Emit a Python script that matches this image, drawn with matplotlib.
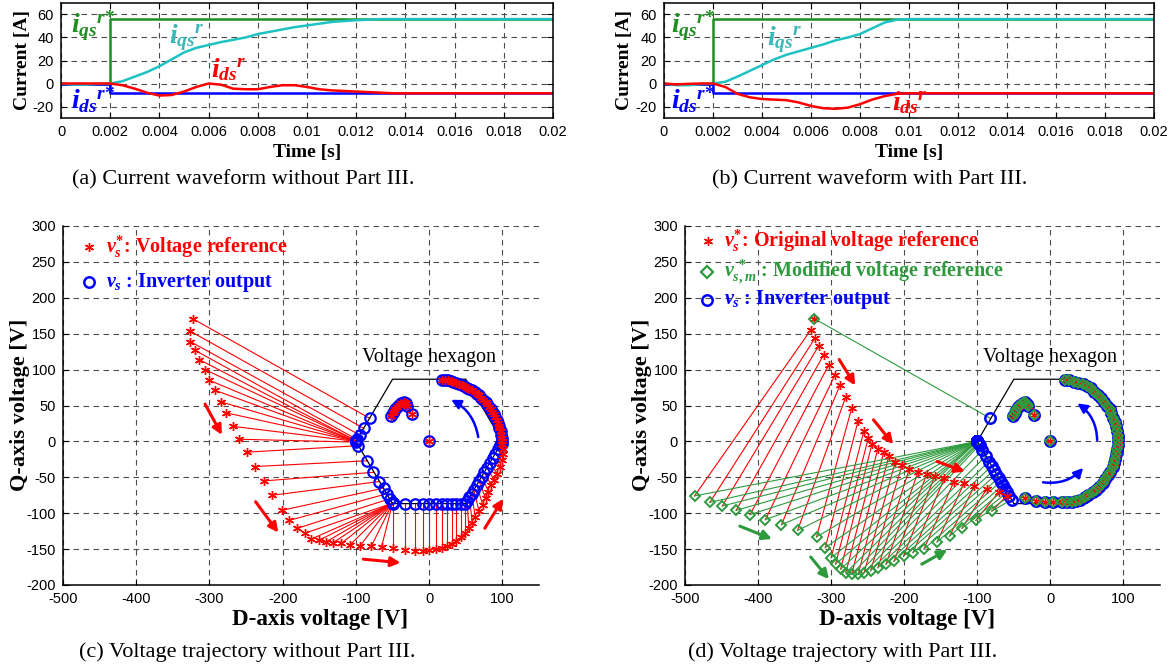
import matplotlib.pyplot as plt
import numpy as np

plt.rcParams['font.family'] = ['Liberation Serif', 'DejaVu Serif']
plt.rcParams['mathtext.fontset'] = 'custom'
plt.rcParams['mathtext.it'] = 'Liberation Serif:italic:bold'
plt.rcParams['mathtext.rm'] = 'Liberation Serif:bold'
plt.rcParams['mathtext.bf'] = 'Liberation Serif:bold'
plt.rcParams['axes.unicode_minus'] = False

# ---------------- current waveforms (a), (b) ----------------
t_ref = [0, 0.002, 0.02]
iqs_ref = [0, 56, 56]
ids_ref = [0, -8.5, -8.5]

t = [0, 0.0005, 0.001, 0.0015, 0.002, 0.0025, 0.003, 0.0035, 0.004, 0.0045,
     0.005, 0.0055, 0.006, 0.0065, 0.007, 0.0075, 0.008, 0.0085, 0.009, 0.0095,
     0.010, 0.0105, 0.011, 0.0115, 0.012, 0.0125, 0.013, 0.0135, 0.014, 0.0145,
     0.015, 0.0155, 0.016, 0.0165, 0.017, 0.0175, 0.018, 0.0185, 0.019, 0.0195, 0.02]

iqs_a = [0, -1, -1, -0.3, 0, 2, 6, 10, 15, 21,
         27, 31, 33.5, 36, 38, 40, 43, 45, 47, 49,
         50.5, 52, 53.5, 54.3, 55, 55.5, 56, 56, 56, 56,
         56, 56, 56, 56, 56, 56, 56, 56, 56, 56, 56]
ids_a = [0, 0, 0, 0, 0, -1.5, -4.5, -8, -10.5, -10,
         -7, -3, 0, -1, -4.5, -5, -5, -3, -1.5, -1.5,
         -3, -5, -6, -6.5, -7, -7.5, -8, -8.5, -8.5, -8.5,
         -8.5, -8.5, -8.5, -8.5, -8.5, -8.5, -8.5, -8.5, -8.5, -8.5, -8.5]

iqs_b = [0, -1.5, -1.5, -0.5, 0, 1.5, 6, 11, 16, 21,
         25, 28, 31, 34, 37.5, 40, 43, 48, 53, 55.5,
         56, 56, 56, 56, 56, 56, 56, 56, 56, 56,
         56, 56, 56, 56, 56, 56, 56, 56, 56, 56, 56]
ids_b = [0, -0.8, -0.3, 0, 0, -3, -9, -12, -13.5, -14,
         -14.5, -16.5, -19.5, -21.5, -22, -21, -18, -14, -11, -9,
         -8.5, -8.5, -8.5, -8.5, -8.5, -8.5, -8.5, -8.5, -8.5, -8.5,
         -8.5, -8.5, -8.5, -8.5, -8.5, -8.5, -8.5, -8.5, -8.5, -8.5, -8.5]

time_ticks = [0, 0.002, 0.004, 0.006, 0.008, 0.01, 0.012, 0.014, 0.016, 0.018, 0.02]
time_labels = ['0', '0.002', '0.004', '0.006', '0.008', '0.01', '0.012', '0.014',
               '0.016', '0.018', '0.02']
cur_ticks = [-20, 0, 20, 40, 60]

# ---------------- voltage trajectory (c) ----------------
# reference points outside the hexagon and the inverter output they map to
c_ref_x = [-323, -327, -326, -320, -314, -306, -300, -292, -284, -278, -268, -259, -249,
           -238, -225, -214, -201, -191, -180, -170, -161, -151, -141, -131, -120, -108,
           -94, -79, -65, -50, -33, -20, -8, 0, 9, 17, 24, 31, 37, 44, 49, 54, 59, 63,
           68, 73, 77, 81, 85, 89, 93, 97, 99, 101, 101]
c_ref_y = [171, 154, 139, 127, 114, 100, 85, 71, 55, 40, 21, 3, -15, -35, -55, -75, -96,
           -110, -121, -128, -136, -138, -140, -141, -142, -144, -145, -146, -147, -149,
           -151, -152, -152, -151, -150, -148, -146, -143, -139, -133, -127, -120, -114,
           -105, -97, -88, -79, -70, -61, -54, -45, -35, -26, -17, -10]
c_out_x = [-81, -89, -95, -99, -100, -100, -100, -100, -100, -100, -100, -100, -97,
           -85, -76, -69, -62, -58, -54, -50, -50, -50, -50, -50, -50, -50, -50, -50,
           -50, -50, -33, -20, -8, 0, 9, 17, 24, 31, 37, 44, 49, 52, 55, 58, 61, 65,
           68, 72, 75, 79, 83, 87, 90, 94, 97]
c_out_y = [32, 18, 9, 3, 1, 1, 0, 0, 0, 0, 0, -1, -6, -27, -43, -56, -65, -73, -80,
           -86, -86, -86, -86, -86, -86, -86, -86, -86, -86, -87, -87, -87, -87, -87,
           -87, -87, -87, -87, -87, -87, -87, -83, -78, -73, -67, -61, -55, -49, -43,
           -37, -30, -23, -17, -10, -5]
# points inside the hexagon (reference == output)
c_in_x = [100, 100, 99, 98, 98, 96, 95, 94, 92, 90, 89, 86, 84, 82, 79, 77, 74, 71, 68,
          65, 62, 58, 55, 52, 48, 45, 41, 37, 33, 30, 26, 22, 18,
          -52, -50, -48, -46, -44, -41, -38, -35, -32, -30, -24, 0]
c_in_y = [-3, 1, 5, 9, 14, 18, 22, 26, 30, 34, 38, 41, 45, 48, 52, 55, 58, 61, 64,
          66, 69, 71, 73, 75, 77, 79, 80, 82, 83, 84, 85, 85, 86,
          36, 39, 42, 45, 48, 51, 54, 55, 53, 50, 38, 0]

# ---------------- voltage trajectory (d) ----------------
d_ref_x = [-323, -328, -322, -317, -310, -303, -295, -288, -280, -272, -263, -255, -249,
           -244, -236, -228, -221, -212, -203, -193, -181, -169, -158, -145, -132, -118,
           -104, -87, -71, -60]
d_ref_y = [171, 155, 144, 133, 121, 107, 92, 78, 62, 46, 29, 15, 5, -3, -10, -15, -20,
           -28, -33, -38, -42, -45, -48, -51, -56, -58, -62, -66, -71, -76]
d_mod_x = [-323, -487, -466, -449, -430, -411, -390, -368, -346, -320, -308, -300, -294,
           -287, -280, -272, -263, -255, -246, -236, -225, -214, -201, -188, -173, -155,
           -138, -121, -102, -80]
d_mod_y = [171, -76, -85, -90, -96, -102, -109, -116, -124, -133, -148, -162, -171, -178,
           -183, -185, -185, -183, -180, -176, -171, -167, -160, -155, -150, -140, -132,
           -121, -110, -97]
d_out_x = [-82, -100, -100, -100, -100, -100, -100, -100, -100, -100, -100, -100, -100,
           -100, -99, -98, -97, -93, -88, -84, -80, -77, -74, -71, -68, -65, -62, -59,
           -56, -53]
d_out_y = [32, 0, 0, 0, 0, 0, 0, 0, 0, 0, 0, 0, 0, 0, -2, -3, -5, -12, -20, -28, -34,
           -40, -46, -51, -56, -61, -66, -71, -76, -81]
d_in_x = [-51, -49, -47, -44, -41, -38, -35, -32, -30, -23, 0,
          -35, -20, -7, 4,
          16, 23, 29, 35, 41, 47, 52, 58, 62, 67, 72, 75, 79, 82, 85, 87, 89, 90, 91,
          92, 92, 92, 91, 90, 88, 86, 83, 81, 77, 74, 69, 65, 60, 55, 50, 44, 38, 32,
          26, 20]
d_in_y = [36, 40, 44, 48, 51, 54, 55, 52, 49, 37, 0,
          -79, -83, -85, -85,
          -84, -85, -84, -83, -81, -78, -75, -71, -67, -63, -58, -53, -47, -42, -36,
          -30, -24, -18, -11, -5, 2, 8, 14, 21, 27, 33, 39, 45, 50, 55, 60, 65, 69, 74,
          77, 80, 82, 83, 85, 86]

hex_x = [100, 50, -50, -100, -50, 50, 100]
hex_y = [0, 86.6, 86.6, 0, -86.6, -86.6, 0]

volt_xticks = [-500, -400, -300, -200, -100, 0, 100]
volt_yticks = [-200, -150, -100, -50, 0, 50, 100, 150, 200, 250, 300]

RED = '#ff0000'
BLUE = '#0000ff'
GREEN = '#1f8f1f'
CYAN = '#1fc2c2'
DGREEN = '#2e9a3e'
STAR = (6, 2, 0)

W, H = 1172, 668
fig = plt.figure(figsize=(W / 100, H / 100), dpi=100)


def px_axes(left, top, right, bottom):
    return fig.add_axes([left / W, 1 - bottom / H, (right - left) / W, (bottom - top) / H])


def style(ax, box=True):
    ax.grid(True, linestyle=(0, (5, 4)), color='0.3', linewidth=0.8)
    ax.tick_params(direction='in', top=box, right=box, length=4, width=0.8,
                   labelsize=10.5, labelfontfamily='Liberation Sans', pad=5)
    for s in ax.spines.values():
        s.set_linewidth(1.1)
    if not box:
        ax.spines['top'].set_visible(False)
        ax.spines['right'].set_visible(False)


def current_plot(ax, iqs, ids, labpos):
    ax.plot(t_ref, iqs_ref, drawstyle='steps-post', color=GREEN, lw=1.8)
    ax.plot(t_ref, ids_ref, drawstyle='steps-post', color=BLUE, lw=1.8)
    ax.plot(t, iqs, color=CYAN, lw=1.8)
    ax.plot(t, ids, color=RED, lw=1.8)
    ax.set_xlim(0, 0.02)
    ax.set_ylim(-30, 70)
    ax.set_xticks(time_ticks)
    ax.set_xticklabels(time_labels)
    ax.set_yticks(cur_ticks)
    style(ax)
    texts = [r'$i_{qs}{}^{r{*}}$', r'$i_{ds}{}^{r{*}}$', r'$i_{qs}{}^{r}$', r'$i_{ds}{}^{r}$']
    cols = [GREEN, BLUE, '#3ab8b8', RED]
    for (x, y), s, c in zip(labpos, texts, cols):
        ax.text(x, y, s, color=c, fontsize=20, ha='left', va='center')


ax_a = px_axes(61, 3, 553, 118)
current_plot(ax_a, iqs_a, ids_a,
             [(0.0004, 50), (0.0004, -14), (0.0044, 40), (0.0061, 12)])
ax_b = px_axes(664, 3, 1154, 118)
current_plot(ax_b, iqs_b, ids_b,
             [(0.0003, 50), (0.0003, -14), (0.0042, 38), (0.0093, -17)])

for x in (61, 664):
    fig.text((x - 39) / W, 1 - 60 / H, 'Current [A]', rotation=90, fontsize=14,
             fontweight='bold', ha='center', va='center')
fig.text(307 / W, 1 - 153 / H, 'Time [s]', fontsize=14, fontweight='bold',
         ha='center', va='center')
fig.text(909 / W, 1 - 153 / H, 'Time [s]', fontsize=14, fontweight='bold',
         ha='center', va='center')


def volt_axes(ax):
    ax.set_xlim(-500, 150)
    ax.set_ylim(-200, 300)
    ax.set_xticks(volt_xticks)
    ax.set_yticks(volt_yticks)
    style(ax, box=False)
    ax.text(0, 117, 'Voltage hexagon', fontsize=14.5, fontweight='normal',
            family='Liberation Serif', ha='center', va='center')


def arrow(ax, p0, p1, color, rad=0.0, lw=2.2):
    ax.annotate('', xy=p1, xytext=p0,
                arrowprops=dict(arrowstyle='-|>', color=color, lw=lw, mutation_scale=14,
                                shrinkA=0, shrinkB=0,
                                connectionstyle='arc3,rad=%s' % rad))


# (c)
ax_c = px_axes(63, 226, 539, 585)
volt_axes(ax_c)
for x0, y0, x1, y1 in zip(c_ref_x, c_ref_y, c_out_x, c_out_y):
    ax_c.plot([x0, x1], [y0, y1], color=RED, lw=0.8)
ax_c.plot(hex_x, hex_y, color='k', lw=0.9)
ax_c.plot(c_out_x + c_in_x, c_out_y + c_in_y, 'o', mfc='none', mec=BLUE, ms=7.5, mew=1.6)
ax_c.plot(c_ref_x + c_in_x, c_ref_y + c_in_y, ls='none', marker=STAR, color=RED, ms=6.5,
          mew=1.0)
arrow(ax_c, (-306, 52), (-283, 9), RED)
arrow(ax_c, (-237, -84), (-206, -127), RED)
arrow(ax_c, (-90, -164), (-39, -169), RED)
arrow(ax_c, (76, -121), (101, -80), RED)
arrow(ax_c, (67, 6), (30, 58), BLUE, rad=0.25, lw=1.8)
ax_c.plot([0.055], [0.942], ls='none', marker=STAR, color=RED, ms=6.5, mew=1.0,
          transform=ax_c.transAxes)
ax_c.plot([0.055], [0.844], 'o', mfc='none', mec=BLUE, ms=7.5, mew=1.8,
          transform=ax_c.transAxes)
ax_c.text(0.09, 0.942, r'$v_s^{*}$: Voltage reference', color=RED, fontsize=14.5,
          fontweight='bold', va='center', transform=ax_c.transAxes)
ax_c.text(0.09, 0.844, r'$v_s$ : Inverter output', color=BLUE, fontsize=14.5,
          fontweight='bold', va='center', transform=ax_c.transAxes)

# (d)
ax_d = px_axes(685, 226, 1160, 585)
volt_axes(ax_d)
for x0, y0, x1, y1 in zip(d_ref_x, d_ref_y, d_mod_x, d_mod_y):
    ax_d.plot([x0, x1], [y0, y1], color=RED, lw=0.8)
for x0, y0, x1, y1 in zip(d_mod_x, d_mod_y, d_out_x, d_out_y):
    ax_d.plot([x0, x1], [y0, y1], color=DGREEN, lw=0.8)
ax_d.plot(hex_x, hex_y, color='k', lw=0.9)
ax_d.plot(d_out_x + d_in_x, d_out_y + d_in_y, 'o', mfc='none', mec=BLUE, ms=7.5, mew=1.8)
ax_d.plot(d_ref_x + d_in_x, d_ref_y + d_in_y, ls='none', marker=STAR, color=RED, ms=6.5,
          mew=1.0)
ax_d.plot(d_mod_x + d_in_x, d_mod_y + d_in_y, 'D', mfc='none', mec=DGREEN, ms=5.5, mew=1.4)
arrow(ax_d, (-289, 114), (-267, 78), RED)
arrow(ax_d, (-242, 30), (-215, -4), RED)
arrow(ax_d, (-155, -28), (-117, -42), RED)
arrow(ax_d, (-425, -118), (-381, -136), DGREEN)
arrow(ax_d, (-328, -161), (-303, -192), DGREEN)
arrow(ax_d, (-176, -171), (-141, -151), DGREEN)
arrow(ax_d, (64, 2), (37, 53), BLUE, rad=0.25, lw=1.8)
arrow(ax_d, (-10, -57), (45, -37), BLUE, rad=0.25, lw=1.8)
ax_d.plot([0.048], [0.958], ls='none', marker=STAR, color=RED, ms=6.5, mew=1.0,
          transform=ax_d.transAxes)
ax_d.plot([0.046], [0.872], 'D', mfc='none', mec=DGREEN, ms=6.5, mew=1.6,
          transform=ax_d.transAxes)
ax_d.plot([0.046], [0.794], 'o', mfc='none', mec=BLUE, ms=7.5, mew=1.8,
          transform=ax_d.transAxes)
ax_d.text(0.082, 0.958, r'$v_s^{*}$: Original voltage reference', color=RED,
          fontsize=14.5, fontweight='bold', va='center', transform=ax_d.transAxes)
ax_d.text(0.082, 0.872, r'$v_{s,m}^{\;*}$ : Modified voltage reference', color=DGREEN,
          fontsize=14.5, fontweight='bold', va='center', transform=ax_d.transAxes)
ax_d.text(0.082, 0.794, r'$v_s$ : Inverter output', color=BLUE, fontsize=14.5,
          fontweight='bold', va='center', transform=ax_d.transAxes)

for x in (63, 685):
    fig.text((x - 43) / W, 1 - 405 / H, 'Q-axis voltage [V]', rotation=90, fontsize=16,
             fontweight='bold', ha='center', va='center')
fig.text(320 / W, 1 - 620 / H, 'D-axis voltage [V]', fontsize=16.5, fontweight='bold',
         ha='center', va='center')
fig.text(907 / W, 1 - 620 / H, 'D-axis voltage [V]', fontsize=16.5, fontweight='bold',
         ha='center', va='center')

# captions
fig.text(243 / W, 1 - 180 / H, '(a) Current waveform without Part III.', fontsize=16,
         ha='center', va='center')
fig.text(870 / W, 1 - 180 / H, '(b) Current waveform with Part III.', fontsize=16,
         ha='center', va='center')
fig.text(247 / W, 1 - 652 / H, '(c) Voltage trajectory without Part III.', fontsize=16,
         ha='center', va='center')
fig.text(843 / W, 1 - 652 / H, '(d) Voltage trajectory with Part III.', fontsize=16,
         ha='center', va='center')

fig.savefig('out.png', dpi=100)
